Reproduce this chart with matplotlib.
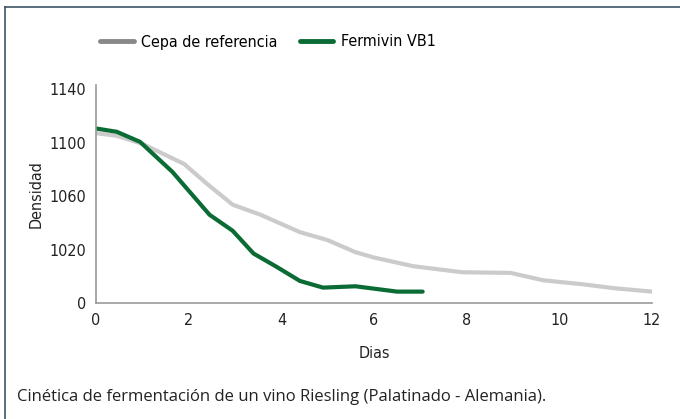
import matplotlib.pyplot as plt
from matplotlib.lines import Line2D

# dias / densidad
dias_ref = [0, 0.45, 1.0, 1.9, 2.4, 2.95, 3.55, 4.4, 5.0, 5.6, 6.0, 6.85, 7.9, 8.95, 9.65, 10.5, 11.2, 12.0]
dens_ref = [1107, 1105, 1099, 1084, 1069, 1053.5, 1046, 1033, 1027, 1018, 1014, 1007.5, 1003, 1002.5, 997, 994, 991, 988.5]

dias_vb1 = [0, 0.45, 0.95, 1.65, 2.45, 2.95, 3.4, 3.9, 4.4, 4.9, 5.6, 6.5, 7.05]
dens_vb1 = [1110.5, 1108, 1100.5, 1078, 1046, 1034, 1017, 1007, 996.5, 991.5, 992.5, 988.5, 988.5]

yticks = [980, 1020, 1060, 1100, 1140]
ytick_labels = ['0', '1020', '1060', '1100', '1140']
xticks = [0, 2, 4, 6, 8, 10, 12]

plt.rcParams['font.family'] = ['DejaVu Sans']
plt.rcParams['font.stretch'] = 'condensed'

fig = plt.figure(figsize=(6.8, 4.19), dpi=100)
ax = fig.add_axes([96/680, 1 - 303/419, (652-96)/680, (303-85)/419])

ax.plot(dias_ref, dens_ref, color='#cbcbcb', lw=3, solid_capstyle='round', solid_joinstyle='round')
ax.plot(dias_vb1, dens_vb1, color='#0b6b35', lw=3, solid_capstyle='round', solid_joinstyle='round')

ax.set_xlim(0, 12)
ax.set_ylim(980, 1143)
ax.set_yticks(yticks)
ax.set_yticklabels(ytick_labels)
ax.set_xticks(xticks)
ax.tick_params(length=0, labelsize=11.5, colors='#222222', pad=7)
for s in ['top', 'right']:
    ax.spines[s].set_visible(False)
for s in ['left', 'bottom']:
    ax.spines[s].set_color('#999999')
    ax.spines[s].set_linewidth(1.2)
ax.set_xlabel('Dias', fontsize=11.5, color='#222222', labelpad=13)
ax.set_ylabel('Densidad', fontsize=11.5, color='#222222', labelpad=4)

handles = [Line2D([], [], color='#888888', lw=3.5, solid_capstyle='round'),
           Line2D([], [], color='#0b6b35', lw=3.5, solid_capstyle='round')]
fig.legend(handles, ['Cepa de referencia', 'Fermivin VB1'], loc='center',
           bbox_to_anchor=(268/680, 1 - 42/419), ncol=2, frameon=False, fontsize=11.5,
           handlelength=2.1, columnspacing=1.4, handletextpad=0.45)

fig.text(17/680, 1 - 397/419, 'Cinética de fermentación de un vino Riesling (Palatinado - Alemania).',
         fontsize=11.95, family=['Open Sans', 'DejaVu Sans'], stretch='normal',
         color='#222222', va='center')

# marco
fig.add_artist(Line2D([4.5/680, 4.5/680], [0, 1 - 7.5/419], color='#3d5566', lw=1.2))
fig.add_artist(Line2D([4.5/680, 1], [1 - 7.5/419, 1 - 7.5/419], color='#3d5566', lw=1.2))

fig.savefig('out.png', dpi=100)
